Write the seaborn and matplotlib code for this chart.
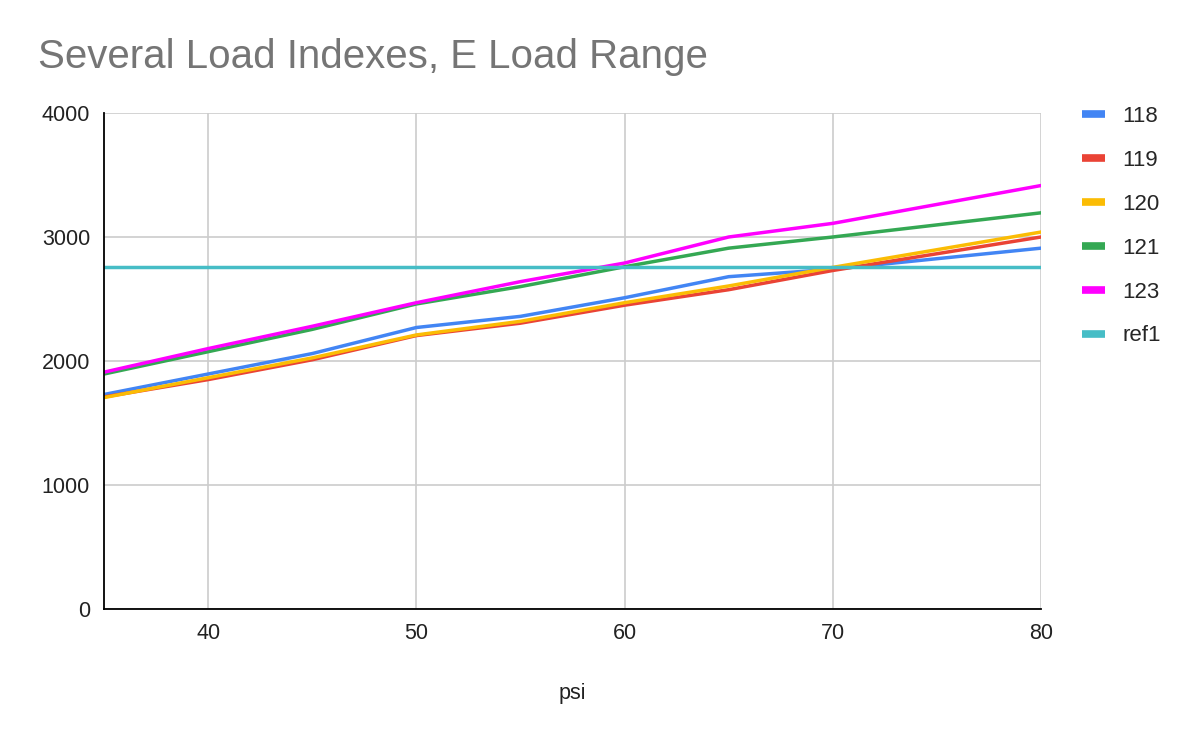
import pandas as pd
import matplotlib.pyplot as plt
import seaborn as sns

# tire load (lbs) by inflation pressure
psi = [35, 40, 45, 50, 55, 60, 65, 70, 80]
load_118 = [1730, 1895, 2060, 2270, 2360, 2510, 2680, 2740, 2910]
load_119 = [1710, 1850, 2010, 2205, 2305, 2450, 2575, 2730, 3000]
load_120 = [1705, 1865, 2025, 2210, 2320, 2470, 2605, 2755, 3040]
load_121 = [1895, 2075, 2255, 2460, 2600, 2760, 2910, 3000, 3195]
load_123 = [1910, 2100, 2280, 2470, 2640, 2790, 3000, 3110, 3415]
ref1 = [2755] * len(psi)

series = {"118": load_118, "119": load_119, "120": load_120,
          "121": load_121, "123": load_123, "ref1": ref1}
colors = {"118": "#4285F4", "119": "#EA4335", "120": "#FBBC04",
          "121": "#34A853", "123": "#FF00FF", "ref1": "#46BDC6"}

rows = []
for name, vals in series.items():
    for p, v in zip(psi, vals):
        rows.append({"psi": p, "load": v, "series": name})
df = pd.DataFrame(rows)

sns.set_style("white")
plt.rcParams['font.family'] = ['Liberation Sans', 'DejaVu Sans']

fig = plt.figure(figsize=(12, 7.42), dpi=100)
ax = fig.add_axes([104/1200, 133/742, 937/1200, 496/742])

sns.lineplot(data=df, x="psi", y="load", hue="series", palette=colors,
             linewidth=2.5, ax=ax, legend=True, sort=False)

ax.set_xlim(35, 80)
ax.set_ylim(0, 4000)
ax.set_xticks([40, 50, 60, 70, 80])
ax.set_yticks([0, 1000, 2000, 3000, 4000])
ax.grid(True, color="#cccccc", linewidth=1.2)
ax.set_axisbelow(True)
ax.tick_params(axis="both", length=0, labelsize=15.5, colors="#222222", pad=10)

for side in ["top", "right"]:
    ax.spines[side].set_visible(False)
ax.spines["left"].set_color("black")
ax.spines["bottom"].set_color("black")
ax.spines["left"].set_linewidth(1.3)
ax.spines["bottom"].set_linewidth(1.3)

ax.set_xlabel("psi", fontsize=15.5, color="#222222", labelpad=28)
ax.set_ylabel("")

leg = ax.legend(loc="upper left", bbox_to_anchor=(1062/1200, 1 - 86/742),
                bbox_transform=fig.transFigure, frameon=False, fontsize=16,
                handlelength=1.05, handletextpad=0.75, labelspacing=1.03)
for line in leg.get_lines():
    line.set_linewidth(5.5)
    line.set_solid_capstyle("butt")

fig.text(38/1200, 1 - 57/742, "Several Load Indexes, E Load Range",
         fontsize=29, color="#757575", va="center", ha="left")

fig.savefig("out.png", dpi=100)
